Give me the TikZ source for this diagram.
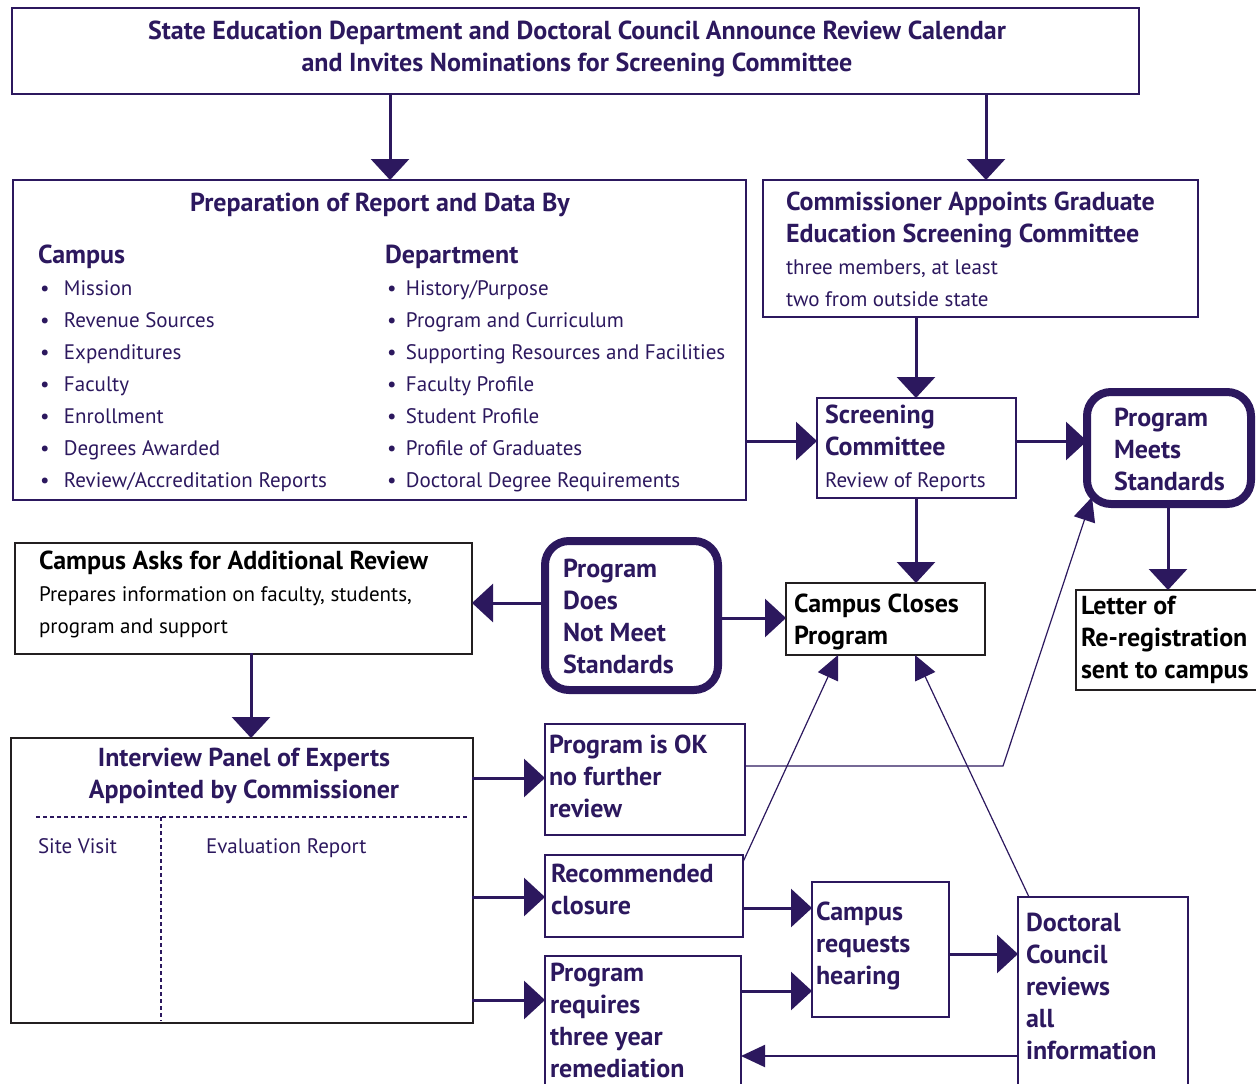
\documentclass[tikz,border=0pt]{standalone}
\usepackage{fontspec}
\setmainfont{PT Sans}
\usetikzlibrary{arrows.meta}

\begin{document}
\begin{tikzpicture}[x=1pt,y=-1pt,line cap=rect,
	box/.style={draw=custpurple, line width=1.5pt, inner sep=0, outer sep=0, anchor=north west},
	blackbox/.style={box, draw=custgrey},
	roundbox/.style={box, line width=8pt, rounded corners=24pt},
	txt/.style={inner sep=0, outer sep=0, anchor=base west, align=left, custpurple},
	bigarrow/.style={line width=3.0pt, custpurple, -{Triangle[width=38pt,length=21pt]}},
	thinarrow/.style={line width=1.2pt, custpurple, -{Triangle[width=22pt,length=24pt]}}]
	\definecolor{custpurple}{RGB}{44,24,94}
	\definecolor{custgrey}{RGB}{35,31,32}
	\def\fontB{\fontsize{26pt}{32pt}\selectfont\bfseries}
	\def\fontR{\fontsize{21pt}{32pt}\selectfont}
	\def\bul#1{\makebox[#1][l]{\hspace{2pt}\textbullet}}
	\useasboundingbox (0,0) rectangle (1256,1084);
	% boxes
	\node[box, minimum width=1127pt, minimum height=86pt] (announce) at (12,8) {};
	\node[box, minimum width=733pt, minimum height=320pt] (prep) at (13,180) {};
	\node[box, minimum width=435pt, minimum height=137pt] (appoint) at (763,180) {};
	\node[box, minimum width=199pt, minimum height=100pt] (screen) at (817,398) {};
	\node[roundbox, minimum width=164pt, minimum height=112pt] (meets) at (1087,392) {};
	\node[blackbox, minimum width=199pt, minimum height=72pt] (closes) at (786,583) {};
	\node[blackbox, minimum width=200pt, minimum height=100pt] (letter) at (1076,590) {};
	\node[roundbox, minimum width=173pt, minimum height=149pt] (notmeet) at (545,541) {};
	\node[blackbox, minimum width=457pt, minimum height=111pt] (asks) at (15,543) {};
	\node[blackbox, minimum width=462pt, minimum height=285pt] (panel) at (11,738) {};
	\node[box, minimum width=200pt, minimum height=111pt] (okbox) at (545,724) {};
	\node[box, minimum width=198pt, minimum height=82pt] (closure) at (545,855) {};
	\node[box, minimum width=137pt, minimum height=135pt] (hearing) at (812,882) {};
	\node[box, minimum width=196pt, minimum height=160pt] (remedy) at (545,956) {};
	\node[box, minimum width=170pt, minimum height=220pt] (council) at (1018,897) {};
	% texts (placed at the baseline of their last line)
	\node[txt, anchor=base, align=center, font=\fontB] (announcetxt) at (577,71) {State Education Department and Doctoral Council Announce Review Calendar\\and Invites Nominations for Screening Committee};
	\node[txt, anchor=base, font=\fontB] (preptitle) at (380,211) {Preparation of Report and Data By};
	\node[txt, font=\fontR] (campuslist) at (38,487) {{\fontB Campus}\\\bul{26pt}Mission\\\bul{26pt}Revenue Sources\\\bul{26pt}Expenditures\\\bul{26pt}Faculty\\\bul{26pt}Enrollment\\\bul{26pt}Degrees Awarded\\\bul{26pt}Review/Accreditation Reports};
	\node[txt, font=\fontR] (deptlist) at (385,487) {{\fontB Department}\\\bul{21pt}History/Purpose\\\bul{21pt}Program and Curriculum\\\bul{21pt}Supporting Resources and Facilities\\\bul{21pt}Faculty Profile\\\bul{21pt}Student Profile\\\bul{21pt}Profile of Graduates\\\bul{21pt}Doctoral Degree Requirements};
	\node[txt, font=\fontR] (appointtxt) at (786,306) {{\fontB Commissioner Appoints Graduate}\\{\fontB Education Screening Committee}\\three members, at least\\two from outside state};
	\node[txt, font=\fontR] (screentxt) at (825,487) {{\fontB Screening}\\{\fontB Committee}\\Review of Reports};
	\node[txt, font=\fontB] (meetstxt) at (1114,490) {Program\\Meets\\Standards};
	\node[txt, font=\fontB, black] (closestxt) at (794,644) {Campus Closes\\Program};
	\node[txt, font=\fontB, black] (lettertxt) at (1081,678) {Letter of\\Re-registration\\sent to campus};
	\node[txt, font=\fontB] (notmeettxt) at (563,673) {Program\\Does\\Not Meet\\Standards};
	\node[txt, font=\fontR, black] (askstxt) at (39,633) {{\fontB Campus Asks for Additional Review}\\Prepares information on faculty, students,\\program and support};
	\node[txt, anchor=base, align=center, font=\fontB] (paneltxt) at (244,798) {Interview Panel of Experts\\Appointed by Commissioner};
	\node[txt, font=\fontR] (sitetxt) at (38,853) {Site Visit};
	\node[txt, font=\fontR] (evaltxt) at (206,853) {Evaluation Report};
	\node[txt, font=\fontB] (oktxt) at (549,817) {Program is OK\\no further\\review};
	\node[txt, font=\fontB] (closuretxt) at (551,914) {Recommended\\closure};
	\node[txt, font=\fontB] (hearingtxt) at (816,984) {Campus\\requests\\hearing};
	\node[txt, font=\fontB] (remedytxt) at (550,1077) {Program\\requires\\three year\\remediation};
	\node[txt, font=\fontB] (counciltxt) at (1026,1059) {Doctoral\\Council\\reviews\\all\\information};
	% dashed split in panel
	\coordinate (dashL) at (36,817);
	\coordinate (dashR) at (469,817);
	\coordinate (dashB) at (161,1021);
	\draw[custpurple, line width=1.2pt, dash pattern=on 4pt off 3pt, line cap=butt] (dashL) -- (dashR);
	\draw[custpurple, line width=1.2pt, dash pattern=on 4pt off 3pt, line cap=butt] (dashL -| dashB) -- (dashB);
	% connector columns and rows
	\coordinate (c390) at (390,0);
	\coordinate (c986) at (986,0);
	\coordinate (c916) at (916,0);
	\coordinate (c1168) at (1168,0);
	\coordinate (c251) at (251,0);
	\coordinate (c838) at (838,0);
	\coordinate (c915) at (915,0);
	\coordinate (r441) at (0,441);
	\coordinate (r603) at (0,603);
	\coordinate (r618) at (0,618);
	\coordinate (r778) at (0,778);
	\coordinate (r897) at (0,897);
	\coordinate (r1000) at (0,1000);
	\coordinate (r908) at (0,908);
	\coordinate (r991) at (0,991);
	\coordinate (r954) at (0,954);
	\coordinate (r1056) at (0,1056);
	\coordinate (r766) at (0,766);
	\coordinate (okbend) at (1003,766);
	% arrows
	\draw[bigarrow] (announce.south -| c390) -- (prep.north -| c390);
	\draw[bigarrow] (announce.south -| c986) -- (appoint.north -| c986);
	\draw[bigarrow] (appoint.south -| c916) -- (screen.north -| c916);
	\draw[bigarrow] (prep.east |- r441) -- (screen.west |- r441);
	\draw[bigarrow] (screen.east |- r441) -- (meets.west |- r441);
	\draw[bigarrow] (screen.south -| c916) -- (closes.north -| c916);
	\draw[bigarrow] (meets.south -| c1168) -- (letter.north -| c1168);
	\draw[bigarrow] (notmeet.west |- r603) -- (asks.east |- r603);
	\draw[bigarrow] (notmeet.east |- r618) -- (closes.west |- r618);
	\draw[bigarrow] (asks.south -| c251) -- (panel.north -| c251);
	\draw[bigarrow] (panel.east |- r778) -- (okbox.west |- r778);
	\draw[bigarrow] (panel.east |- r897) -- (closure.west |- r897);
	\draw[bigarrow] (panel.east |- r1000) -- (remedy.west |- r1000);
	\draw[bigarrow] (closure.east |- r908) -- (hearing.west |- r908);
	\draw[bigarrow] (remedy.east |- r991) -- (hearing.west |- r991);
	\draw[bigarrow] (hearing.east |- r954) -- (council.west |- r954);
	\draw[thinarrow, line width=2pt] (council.west |- r1056) -- (remedy.east |- r1056);
	\draw[thinarrow] (okbox.east |- r766) -- (okbend) -- ([shift={(5pt,7pt)}]meets.south west);
	\draw[thinarrow] ([yshift=-7pt]closure.north east) -- (closes.south -| c838);
	\draw[thinarrow] ([xshift=11pt]council.north west) -- (closes.south -| c915);
\end{tikzpicture}
\end{document}
